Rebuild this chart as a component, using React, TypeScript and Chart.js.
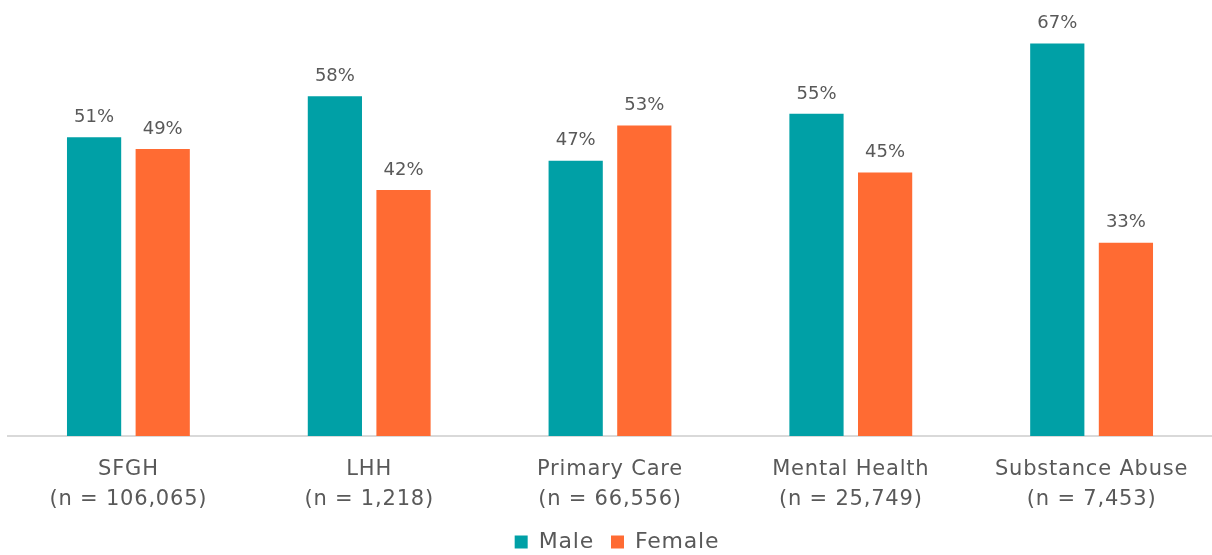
import React, { useEffect, useRef } from "react";
import { Chart, registerables } from "chart.js";

Chart.register(...registerables);

const categories: string[][] = [
  ["SFGH", "(n = 106,065)"],
  ["LHH", "(n = 1,218)"],
  ["Primary Care", "(n = 66,556)"],
  ["Mental Health", "(n = 25,749)"],
  ["Substance Abuse", "(n = 7,453)"],
];
const maleValues = [51, 58, 47, 55, 67];
const femaleValues = [49, 42, 53, 45, 33];

const FONT = "'DejaVu Sans', sans-serif";
const TEXT = "#595959";
const LEGEND_PAD = 17;

const labelPlugin = {
  id: "barLabels",
  afterLayout(chart: any) {
    const l = chart.legend;
    if (l) {
      const h = l.bottom - l.top;
      const newTop = 541 - LEGEND_PAD - 10;
      l.top = newTop;
      l.bottom = newTop + h;
      l.left += 3;
      l.right += 3;
    }
    const x = chart.scales.x;
    if (x) x.bottom = chart.height;
  },
  beforeDraw(chart: any) {
    chart.ctx.letterSpacing = "0.8px";
  },
  afterDatasetsDraw(chart: any) {
    const ctx = chart.ctx;
    ctx.save();
    ctx.letterSpacing = "0px";
    ctx.font = `18px ${FONT}`;
    ctx.fillStyle = TEXT;
    ctx.textAlign = "center";
    ctx.textBaseline = "middle";
    chart.data.datasets.forEach((ds: any, i: number) => {
      const meta = chart.getDatasetMeta(i);
      meta.data.forEach((bar: any, j: number) => {
        ctx.fillText(ds.data[j] + "%", bar.x, bar.y - 20);
      });
    });
    ctx.restore();
  },
};

export default function App() {
  const ref = useRef<HTMLCanvasElement>(null);
  useEffect(() => {
    if (!ref.current) return;
    const chart = new Chart(ref.current, {
      type: "bar",
      data: {
        labels: categories,
        datasets: [
          { label: "Male", data: maleValues, backgroundColor: "#00A0A6" },
          { label: "Female", data: femaleValues, backgroundColor: "#FF6B33" },
        ],
      },
      options: {
        animation: false,
        responsive: false,
        maintainAspectRatio: false,
        layout: { padding: { left: 8, top: 26, right: 0, bottom: 0 } },
        datasets: { bar: { categoryPercentage: 0.57, barPercentage: 0.79 } } as any,
        plugins: {
          legend: {
            position: "bottom",
            labels: {
              font: { family: FONT, size: 22 },
              color: TEXT,
              boxWidth: 13,
              boxHeight: 13,
              padding: LEGEND_PAD,
            },
          },
          tooltip: { enabled: false },
        },
        scales: {
          x: {
            grid: { display: false },
            border: { color: "#D9D9D9", width: 2 },
            ticks: {
              font: { family: FONT, size: 21, lineHeight: 1.45 },
              color: TEXT,
              padding: 10,
              maxRotation: 0,
              autoSkip: false,
            },
            afterFit: (scale: any) => {
              scale.height = 70;
            },
          },
          y: {
            display: false,
            min: 0,
            max: 70,
          },
        },
      },
      plugins: [labelPlugin],
    });
    return () => chart.destroy();
  }, []);
  return (
    <div style={{ position: "absolute", left: 0, top: 0, width: 1212, height: 555, background: "#fff" }}>
      <canvas ref={ref} width={1212} height={555} />
    </div>
  );
}
